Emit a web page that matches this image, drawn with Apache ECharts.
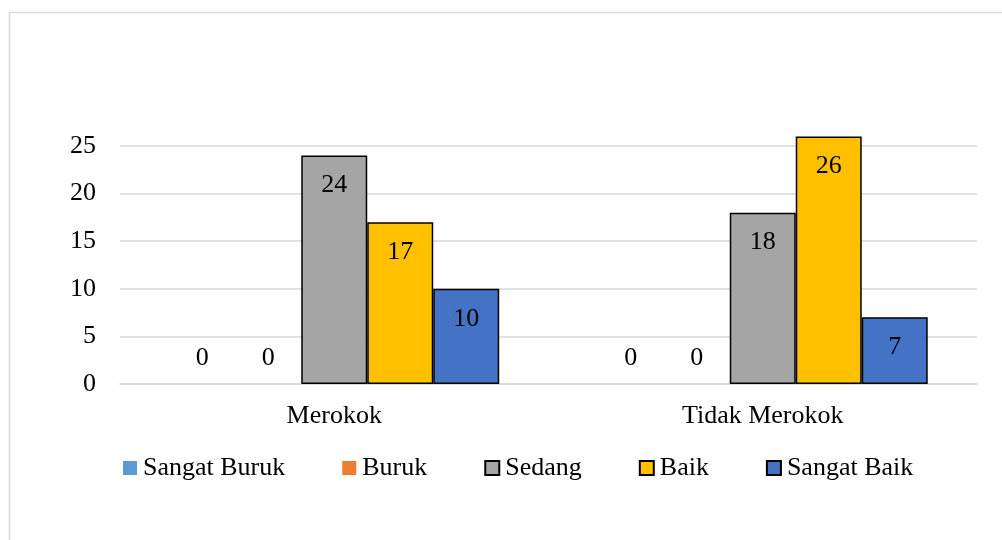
<!DOCTYPE html>
<html>
<head>
<meta charset="utf-8">
<script src="https://cdn.jsdelivr.net/npm/echarts@6/dist/echarts.min.js"></script>
<style>
html,body{margin:0;padding:0;background:#fff;}
#c{width:1002px;height:540px;}
</style>
</head>
<body>
<div id="c"></div>
<script>
const categories = ['Merokok', 'Tidak Merokok'];
const seriesNames = ['Sangat Buruk', 'Buruk', 'Sedang', 'Baik', 'Sangat Baik'];
const sangatBuruk = [0, 0];
const buruk = [0, 0];
const sedang = [24, 18];
const baik = [17, 26];
const sangatBaik = [10, 7];
const yTicks = [0, 5, 10, 15, 20, 25];

const values = [sangatBuruk, buruk, sedang, baik, sangatBaik];
const colors = ['#5B9BD5', '#ED7D31', '#A5A5A5', '#FFC000', '#4472C4'];
const bordered = [false, false, true, true, true];
const FONT = '"Liberation Serif", "Times New Roman", serif';
const FS = 26;

const chart = echarts.init(document.getElementById('c'), null, {renderer: 'canvas'});
chart.setOption({
  animation: false,
  textStyle: {fontFamily: FONT},
  graphic: [{
    type: 'rect', silent: true, z: -1,
    shape: {x: 9.5, y: 12.5, width: 1000, height: 600},
    style: {fill: 'none', stroke: '#d9d9d9', lineWidth: 1.5}
  }],
  legend: {
    left: 118, top: 450,
    itemWidth: 14, itemHeight: 14, itemGap: 57,
    icon: 'rect',
    textStyle: {fontFamily: FONT, fontSize: FS, color: '#000', padding: [0, 0, 0, 1]},
    data: seriesNames
  },
  grid: {left: 120, right: 25, top: 146, bottom: 156, containLabel: false},
  xAxis: {
    type: 'category', data: categories,
    axisLine: {show: true, lineStyle: {color: '#d9d9d9', width: 1.5}},
    axisTick: {show: false},
    axisLabel: {fontFamily: FONT, fontSize: FS, color: '#000', margin: 19}
  },
  yAxis: {
    type: 'value', min: 0, max: yTicks[yTicks.length - 1], interval: 5,
    axisLine: {show: false}, axisTick: {show: false},
    splitLine: {lineStyle: {color: '#d9d9d9', width: 1.5}},
    axisLabel: {fontFamily: FONT, fontSize: FS, color: '#000', margin: 24}
  },
  series: seriesNames.map((n, i) => ({
    name: n, type: 'bar', data: values[i], clip: false,
    barGap: '0%', barCategoryGap: '23%',
    itemStyle: {color: colors[i], borderColor: bordered[i] ? '#000' : colors[i], borderWidth: bordered[i] ? 1.5 : 0},
    label: {
      show: true,
      position: bordered[i] ? 'insideTop' : 'top',
      distance: bordered[i] ? 17 : 13,
      fontFamily: FONT, fontSize: FS, color: '#000'
    }
  }))
});
</script>
</body>
</html>
